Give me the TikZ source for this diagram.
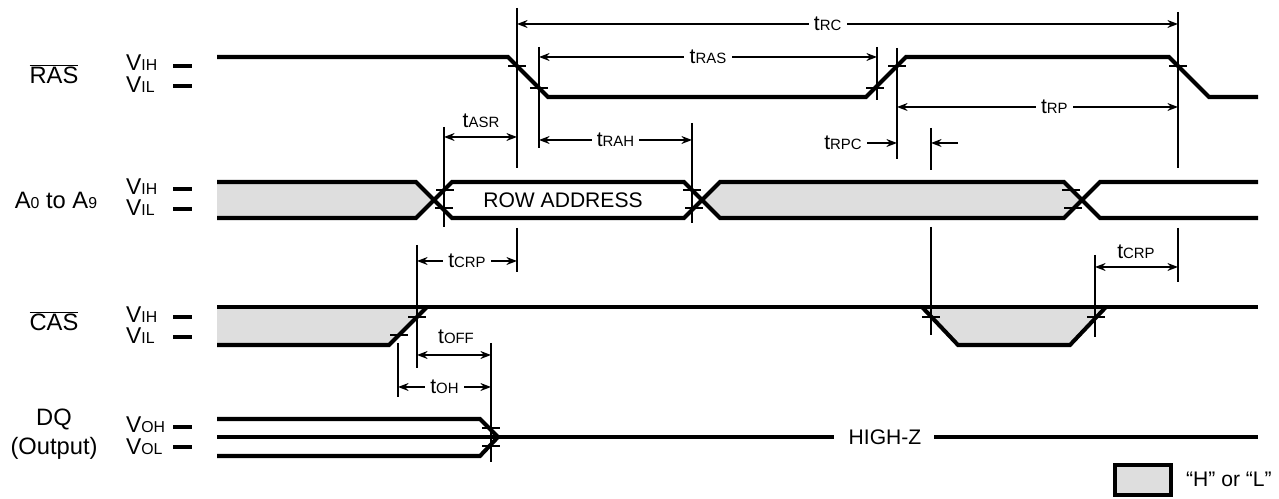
\documentclass[tikz,border=0pt]{standalone}
\usepackage{fontspec}
\setmainfont{Liberation Sans}
\usetikzlibrary{arrows.meta}

% small letters set on the baseline, as in t_RAS or V_IH
\newcommand\lsub[2]{#1{\fontsize{9}{10}\selectfont #2}}
\newcommand\tsub[1]{t{\fontsize{8.5}{9}\selectfont #1}}

\begin{document}
\begin{tikzpicture}[
        x=0.02cm, y=-0.02cm,
        font=\fontsize{12}{14}\selectfont,
        signame/.style={font=\fontsize{13.5}{16}\selectfont},
        volt/.style={anchor=west, font=\fontsize{13}{15}\selectfont},
        wave/.style={line width=2.3pt},
        level/.style={line width=2.3pt},
        edgeline/.style={line width=1.1pt},
        tick/.style={line width=1.1pt},
        dim/.style={line width=1.1pt, {Stealth[length=6pt,width=4.5pt]}-{Stealth[length=6pt,width=4.5pt]}},
        half/.style={line width=1.1pt, -{Stealth[length=6pt,width=4.5pt]}},
        lbl/.style={fill=white, inner xsep=3pt, inner ysep=1pt},
        stipple/.style={fill=black!13}
    ]
        \useasboundingbox (0,0) rectangle (1279,499);

        % Signal names and levels
        \node[signame] (ras) at (54,74) {$\overline{\mbox{RAS}}$};
        \node[volt] (rasih) at (120,63) {\lsub{V}{IH}};
        \node[volt] (rasil) at (120,85) {\lsub{V}{IL}};
        \node[signame] (addr) at (56,200) {\lsub{A}{0} to \lsub{A}{9}};
        \node[volt] (addrih) at (120,187) {\lsub{V}{IH}};
        \node[volt] (addril) at (120,208) {\lsub{V}{IL}};
        \node[signame] (cas) at (54,321) {$\overline{\mbox{CAS}}$};
        \node[volt] (casih) at (120,315) {\lsub{V}{IH}};
        \node[volt] (casil) at (120,336) {\lsub{V}{IL}};
        \node[signame] (dq) at (54,419) {DQ};
        \node[signame] (dqout) at (54,448) {(Output)};
        \node[volt] (dqoh) at (120,425) {\lsub{V}{OH}};
        \node[volt] (dqol) at (120,447) {\lsub{V}{OL}};
        \foreach \y in {66,86,189,209,317,337,427,447}
            \draw[level] (173,\y) -- (192,\y);

        % RAS
        \draw[wave] (217,57) -- (508,57) -- (548,97) -- (866,97) -- (906,57)
            -- (1169,57) -- (1209,97) -- (1258,97);
        \foreach \p in {(517,66),(539,88),(875,88),(897,66),(1178,66)}
            \draw[tick] \p ++(-9,0) -- ++(18,0);

        % Address bus
        \fill[stipple] (217,182) -- (416,182) -- (434,200) -- (416,218) -- (217,218) -- cycle;
        \fill[stipple] (702,200) -- (720,182) -- (1064,182) -- (1082,200) -- (1064,218) -- (720,218) -- cycle;
        \draw[wave] (217,182) -- (416,182) -- (452,218) -- (684,218) -- (720,182)
            -- (1064,182) -- (1100,218) -- (1258,218);
        \draw[wave] (217,218) -- (416,218) -- (452,182) -- (684,182) -- (720,218)
            -- (1064,218) -- (1100,182) -- (1258,182);
        \foreach \p in {(445,190),(444,208),(692,190),(694,208),(1071,190),(1073,208)}
            \draw[tick] \p ++(-9,0) -- ++(18,0);
        \node (row) at (563,200) {ROW ADDRESS};

        % CAS
        \fill[stipple] (217,307) -- (427,307) -- (389,345) -- (217,345) -- cycle;
        \fill[stipple] (922,307) -- (958,345) -- (1070,345) -- (1106,307) -- cycle;
        \draw[wave] (217,307) -- (1258,307);
        \draw[wave] (217,345) -- (389,345) -- (427,307);
        \draw[wave] (922,307) -- (958,345) -- (1070,345) -- (1106,307);
        \foreach \p in {(417,317),(399,335),(931,317),(1096,317)}
            \draw[tick] \p ++(-9,0) -- ++(18,0);

        % DQ
        \draw[wave] (217,419) -- (480,419) -- (498,437);
        \draw[wave] (217,456) -- (480,456) -- (498,437);
        \draw[wave] (217,437) -- (834,437);
        \draw[wave] (934,437) -- (1258,437);
        \node (hiz) at (885,437) {HIGH-Z};
        \foreach \p in {(491,428),(491,446)}
            \draw[tick] \p ++(-9,0) -- ++(18,0);

        % Reference edges
        \draw[edgeline] (517,8) -- (517,168);
        \draw[edgeline] (517,228) -- (517,272);
        \draw[edgeline] (539,47) -- (539,148);
        \draw[edgeline] (877,47) -- (877,100);
        \draw[edgeline] (897,48) -- (897,159);
        \draw[edgeline] (1178,12) -- (1178,168);
        \draw[edgeline] (1178,228) -- (1178,282);
        \draw[edgeline] (444,127) -- (444,227);
        \draw[edgeline] (692,123) -- (692,223);
        \draw[edgeline] (931,128) -- (931,170);
        \draw[edgeline] (931,227) -- (931,335);
        \draw[edgeline] (417,245) -- (417,368);
        \draw[edgeline] (398,343) -- (398,397);
        \draw[edgeline] (491,343) -- (491,462);
        \draw[edgeline] (1095,255) -- (1095,337);

        % Timing parameters
        \draw[dim] (517,24) -- (1178,24) node[lbl, pos=0.47] (trc) {\tsub{RC}};
        \draw[dim] (539,57) -- (877,57) node[lbl, midway] (tras) {\tsub{RAS}};
        \draw[dim] (897,107) -- (1178,107) node[lbl, pos=0.56] (trp) {\tsub{RP}};
        \draw[dim] (444,137) -- (517,137);
        \node (tasr) at (481,121) {\tsub{ASR}};
        \draw[dim] (539,140) -- (692,140) node[lbl, midway] (trah) {\tsub{RAH}};
        \node (trpc) at (843,143) {\tsub{RPC}};
        \draw[half] (867,143) -- (897,143);
        \draw[half] (958,143) -- (931,143);
        \draw[dim] (417,261) -- (517,261) node[lbl, midway] (tcrpa) {\tsub{CRP}};
        \draw[dim] (1095,267) -- (1178,267);
        \node (tcrpb) at (1136,252) {\tsub{CRP}};
        \draw[dim] (417,355) -- (491,355);
        \node (toff) at (456,337) {\tsub{OFF}};
        \draw[dim] (398,387) -- (491,387) node[lbl, midway] (toh) {\tsub{OH}};

        % Legend
        \draw[line width=2.3pt, stipple] (1115,465) rectangle (1171,495);
        \node[anchor=west] (key) at (1180,479) {``H'' or ``L''};
    \end{tikzpicture}
\end{document}
